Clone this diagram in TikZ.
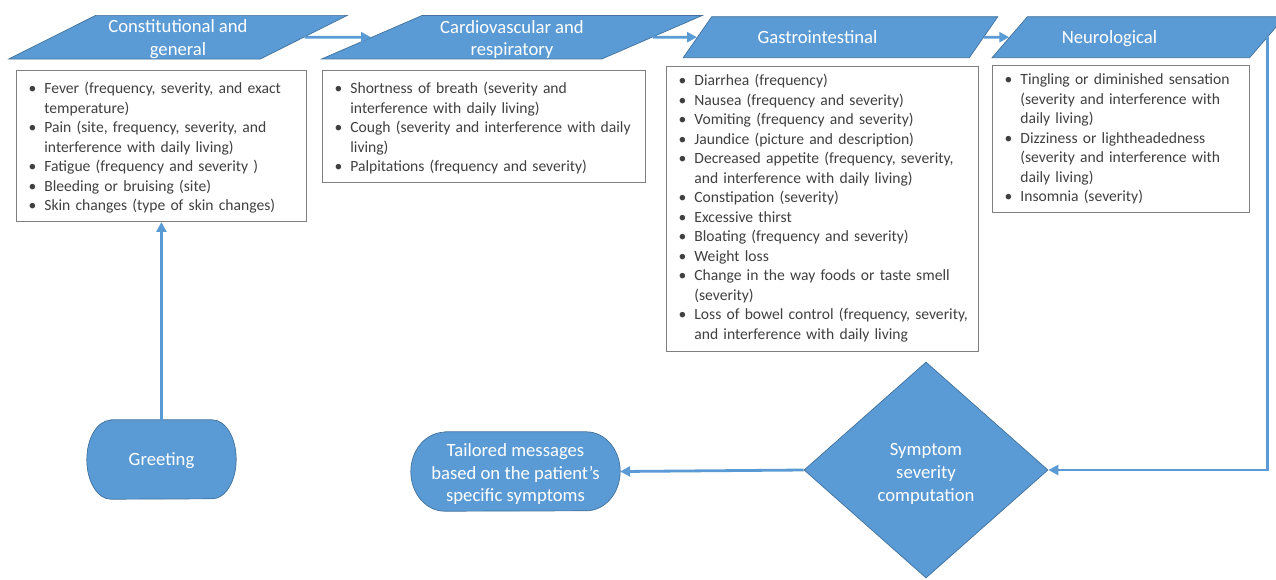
\documentclass[tikz,border=0pt]{standalone}
\usepackage{fontspec}
\setmainfont{Carlito}
\usetikzlibrary{shapes.geometric,arrows.meta,positioning}
\definecolor{boxblue}{HTML}{5B9BD5}
\definecolor{edgeblue}{HTML}{41719C}
\definecolor{listgray}{HTML}{404040}
\definecolor{framegray}{HTML}{7F7F7F}
\pgfdeclarelayer{background}
\pgfsetlayers{background,main}
\newenvironment{symptomlist}{\begin{list}{\textbullet}{\setlength{\leftmargin}{21pt}\setlength{\labelwidth}{13pt}\setlength{\labelsep}{8pt}\setlength{\itemsep}{0pt}\setlength{\parsep}{0pt}\setlength{\topsep}{0pt}\setlength{\partopsep}{0pt}}}{\end{list}}
\newcommand{\toplift}[1]{\rule{0pt}{#1}}

\begin{document}
\begin{tikzpicture}[x=1pt,y=-1pt,
    stage/.style={trapezium, trapezium stretches=true, minimum height=41pt, inner sep=0pt, fill=boxblue, draw=edgeblue, line width=0.7pt, text=white, align=center, font=\fontsize{18.67pt}{22.8pt}\selectfont},
    listbox/.style={anchor=north west, draw=framegray, line width=0.8pt, fill=white, inner xsep=7pt, inner ysep=4pt, align=left, text=listgray, font=\fontsize{15.6pt}{19.5pt}\selectfont},
    termtext/.style={minimum height=79pt, inner sep=0pt, text=white, align=center, font=\fontsize{18.67pt}{22.8pt}\selectfont},
    term/.style={fill=boxblue, draw=edgeblue, line width=0.7pt},
    link/.style={draw=boxblue, line width=2.8pt, -{Triangle[length=10pt,width=10pt]}}]
    \useasboundingbox (0,0) rectangle (1276,579);
    % the four symptom groups
    \node[stage, minimum width=340pt, trapezium left angle=30.7, trapezium right angle=149.3] (constit) at (178,37.2) {\toplift{17.6pt}Constitutional and\\general};
    \node[stage, minimum width=382pt, trapezium left angle=28.5, trapezium right angle=151.5] (cardio) at (512,37.2) {\toplift{17.6pt}Cardiovascular and\\respiratory};
    \node[stage, minimum width=315pt, trapezium left angle=35.5, trapezium right angle=144.5] (gastro) at (840.5,37.2) {Gastrointestinal\hspace*{46pt}};
    \node[stage, minimum width=293pt, trapezium left angle=36.7, trapezium right angle=143.3] (neuro) at (1138.5,37.2) {\toplift{15pt}Neurological\hspace*{58pt}};
    \node[listbox, text width=276pt] (constbox) at (16,70) {\begin{symptomlist}
        \item Fever (frequency, severity, and exact\newline temperature)
        \item Pain (site, frequency, severity, and\newline interference with daily living)
        \item Fatigue (frequency and severity )
        \item Bleeding or bruising (site)
        \item Skin changes (type of skin changes)
    \end{symptomlist}\par\vspace{4pt}};
    \node[listbox, text width=309pt] (cardbox) at (322,70) {\begin{symptomlist}
        \item Shortness of breath (severity and\newline interference with daily living)
        \item \mbox{Cough (severity and interference with daily}\newline living)
        \item Palpitations (frequency and severity)
    \end{symptomlist}\par\vspace{4pt}};
    \node[listbox, text width=298pt, inner ysep=0pt] (gastbox) at (666,66) {\begin{symptomlist}
        \item Diarrhea (frequency)
        \item Nausea (frequency and severity)
        \item Vomiting (frequency and severity)
        \item Jaundice (picture and description)
        \item \mbox{Decreased appetite (frequency, severity,}\newline and interference with daily living)
        \item Constipation (severity)
        \item Excessive thirst
        \item Bloating (frequency and severity)
        \item Weight loss
        \item \mbox{Change in the way foods or taste smell}\newline (severity)
        \item \mbox{Loss of bowel control (frequency, severity,}\newline and interference with daily living
    \end{symptomlist}\par\vspace{9pt}};
    \node[listbox, text width=243pt, inner ysep=0pt] (neurbox) at (992,65) {\begin{symptomlist}
        \item Tingling or diminished sensation\newline (severity and interference with\newline daily living)
        \item Dizziness or lightheadedness\newline (severity and interference with\newline daily living)
        \item Insomnia (severity)
    \end{symptomlist}\par\vspace{8pt}};
    % start, computation and output
    \node[termtext, minimum width=149pt] (greet) at (161.5,459.5) {\toplift{16pt}Greeting};
    \node[termtext, minimum width=209pt] (tailor) at (515.5,471.5) {\toplift{18pt}Tailored messages\\based on the patient’s\\specific symptoms};
    \node[diamond, minimum width=244pt, minimum height=216pt, inner sep=0pt, fill=boxblue, draw=edgeblue, line width=0.7pt, text=white, align=center, font=\fontsize{18.67pt}{22.8pt}\selectfont] (sev) at (926,470) {\toplift{20pt}Symptom\\severity\\computation};
    \begin{pgfonlayer}{background}
        \foreach \n/\r in {greet/24,tailor/34}
        \draw[term] ([xshift=\r pt]\n.north west) -- ([xshift=-\r pt]\n.north east)
            arc[start angle=90, end angle=-90, x radius=\r pt, y radius=39.5pt]
            -- ([xshift=\r pt]\n.south west)
            arc[start angle=270, end angle=90, x radius=\r pt, y radius=39.5pt] -- cycle;
    \end{pgfonlayer}
    \draw[link] (greet.north) -- (constbox.south);
    \draw[link] (constit.east) -- (cardio.west);
    \draw[link] (cardio.east) -- (gastro.west);
    \draw[link] (gastro.east) -- (neuro.west);
    \draw[link] (neuro.east) |- (sev.east);
    \draw[link] (sev.west) -- (tailor.east);
\end{tikzpicture}
\end{document}
